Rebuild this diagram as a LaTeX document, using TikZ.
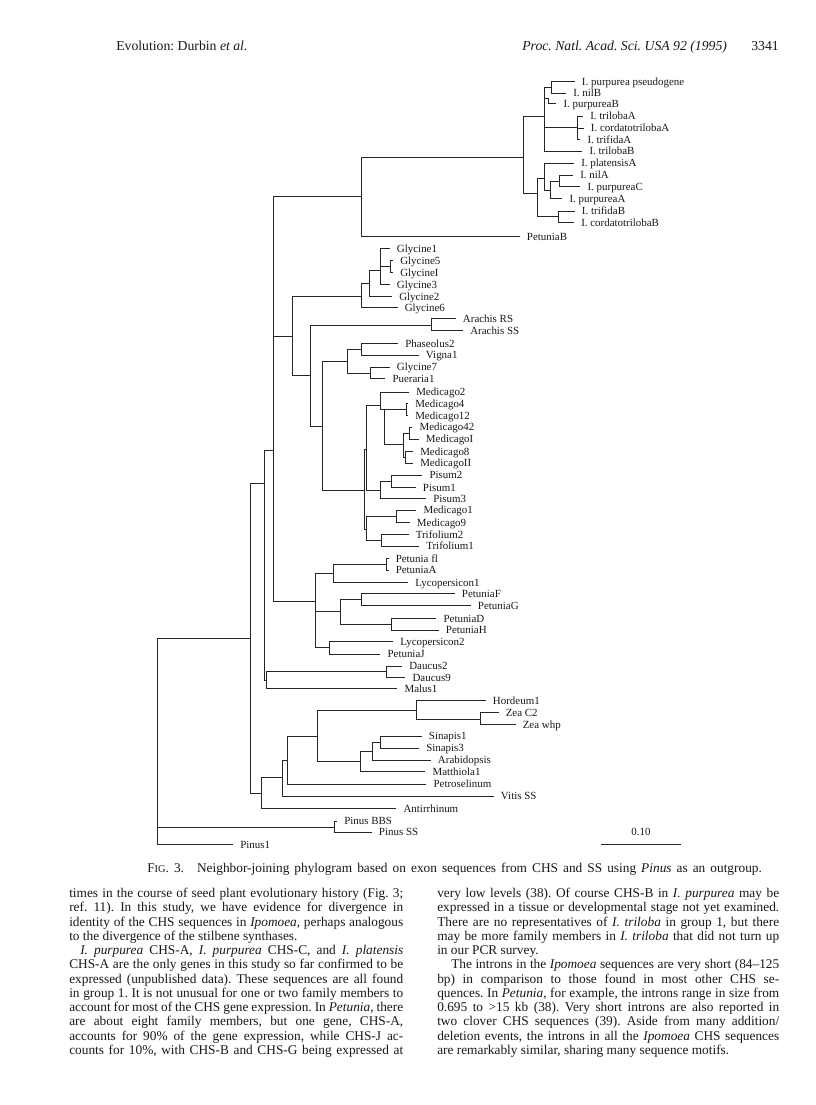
\documentclass[tikz,border=0pt]{standalone}
\usepackage{fontspec}
\setmainfont{Liberation Serif}
\newcommand\mkclade[2]{\foreach \ch in {#2}{\draw[br] (#1) |- (\ch);}}
\newcommand\mkleaf[4]{\coordinate (#1) at (#2,#3); \node[lab] (L#1) at (#1) {#4};}
\begin{document}
\frenchspacing
\begin{tikzpicture}[x=0.75pt,y=-0.75pt,
  br/.style={draw=black!85, line width=0.65pt},
  lab/.style={anchor=base west, inner sep=0pt, xshift=5.25pt, yshift=-2.8pt, font=\fontsize{8.2}{9}\selectfont, text=black!90},
  body/.style={anchor=base west, inner sep=0pt, font=\fontsize{10}{12}\selectfont, text=black!90},
  head/.style={inner sep=0pt, font=\fontsize{10.3}{12}\selectfont, text=black!90}]
\fill[white] (0,0) rectangle (816,1105);
\useasboundingbox (0,0) rectangle (816,1105);

% ---------- header ----------
\node[head, anchor=base west] (h1) at (116,50.5) {Evolution: Durbin \textit{et al.}};
\node[head, anchor=base west] (h2) at (522,50.5) {\textit{Proc. Natl. Acad. Sci. USA 92 (1995)}};
\node[head, anchor=base east] (h3) at (779,50.5) {3341};

% ---------- internal nodes ----------
\coordinate (R) at (157,740);
\coordinate (NC) at (250,638.3);
\coordinate (NB) at (264,483.3);
\coordinate (NA) at (273.3,450.7);
\coordinate (Ntop) at (361.7,196.7);
\coordinate (Nipo) at (523.5,157.3);
\coordinate (N3) at (544,116.7);
\coordinate (N1) at (551,87);
\coordinate (N2) at (548.3,98.5);
\coordinate (N4) at (577,127.5);
\coordinate (N5) at (537.7,193.3);
\coordinate (N6) at (544.3,178);
\coordinate (N6b) at (550,190);
\coordinate (N8) at (559.3,181);
\coordinate (N7) at (558.3,216.7);
\coordinate (Nleg) at (292.3,336);
\coordinate (Ngly) at (361.7,296.7);
\coordinate (Ngly2) at (369.3,283.3);
\coordinate (Ngly3) at (380.7,270);
\coordinate (Ng51) at (390,266.3);
\coordinate (Nleg2) at (310.7,375);
\coordinate (Nara) at (431.7,325);
\coordinate (Nleg3) at (322.7,426);
\coordinate (Nph) at (347.3,361.7);
\coordinate (Nph2) at (361.7,349.3);
\coordinate (Ngp) at (370,373.3);
\coordinate (Nmed) at (364,490);
\coordinate (Nmp) at (366.7,449);
\coordinate (NmA) at (380.5,405);
\coordinate (Nm3) at (384.5,409.5);
\coordinate (Nmf) at (406.5,409.5);
\coordinate (Nm4) at (403.5,444);
\coordinate (Nmfz) at (409.5,433);
\coordinate (Nm8) at (405,457.5);
\coordinate (Npis) at (380.7,490);
\coordinate (Np12) at (391.3,481.5);
\coordinate (Nmt) at (366.7,529);
\coordinate (Nm19) at (396,516.5);
\coordinate (Ntrif) at (381.7,540.5);
\coordinate (Npet) at (315,601.7);
\coordinate (Npet1) at (333.3,573.3);
\coordinate (Npfa) at (386.7,564.3);
\coordinate (Npet2) at (340.7,611.7);
\coordinate (Nfg) at (361,599.5);
\coordinate (Ndh) at (391.7,624);
\coordinate (Nlj) at (329,647.3);
\coordinate (Ndm) at (266.7,680);
\coordinate (Ndau) at (386.7,671.7);
\coordinate (ND) at (261.7,793.3);
\coordinate (NE) at (282.7,777.3);
\coordinate (NF) at (287.7,760.7);
\coordinate (NG) at (317.7,736);
\coordinate (NH) at (416,710.7);
\coordinate (Nzea) at (480,719);
\coordinate (NI) at (360,761.7);
\coordinate (NJ) at (372.7,751.7);
\coordinate (Nsin) at (380.7,742);
\coordinate (NPin) at (334.3,827);

% ---------- leaves ----------
\mkleaf{tPseudo}{574.7}{81.5}{I. purpurea pseudogene}
\mkleaf{tNilB}{566}{93}{I. nilB}
\mkleaf{tPurB}{556.3}{103.5}{I. purpureaB}
\mkleaf{tTriA}{583}{116}{I. trilobaA}
\mkleaf{tCorA}{583.7}{128}{I. cordatotrilobaA}
\mkleaf{tTrfA}{580.3}{139.5}{I. trifidaA}
\mkleaf{tTriB}{582.3}{151}{I. trilobaB}
\mkleaf{tPlaA}{574}{163}{I. platensisA}
\mkleaf{tNilA}{573}{175}{I. nilA}
\mkleaf{tPurC}{580.3}{186.5}{I. purpureaC}
\mkleaf{tPurA}{562.3}{198.5}{I. purpureaA}
\mkleaf{tTrfB}{574.7}{211}{I. trifidaB}
\mkleaf{tCorB}{574}{222.5}{I. cordatotrilobaB}
\mkleaf{tPetB}{519.7}{236.5}{PetuniaB}
\mkleaf{tGlyA}{389.7}{248.5}{Glycine1}
\mkleaf{tGlyE}{393}{260.3}{Glycine5}
\mkleaf{tGlyI}{393}{272.3}{GlycineI}
\mkleaf{tGlyC}{389.7}{284.3}{Glycine3}
\mkleaf{tGlyB}{392}{296.5}{Glycine2}
\mkleaf{tGlyF}{397.5}{307.7}{Glycine6}
\mkleaf{tAraRS}{455.7}{318.5}{Arachis RS}
\mkleaf{tAraSS}{463}{330.5}{Arachis SS}
\mkleaf{tPha}{398}{343.3}{Phaseolus2}
\mkleaf{tVig}{418.7}{355}{Vigna1}
\mkleaf{tGlyG}{389.7}{367}{Glycine7}
\mkleaf{tPue}{385.3}{378.7}{Pueraria1}
\mkleaf{tMedB}{409}{392}{Medicago2}
\mkleaf{tMedD}{408}{403.5}{Medicago4}
\mkleaf{tMedL}{408}{415.5}{Medicago12}
\mkleaf{tMedDB}{412.3}{427}{Medicago42}
\mkleaf{tMedI}{418.7}{439}{MedicagoI}
\mkleaf{tMedH}{413}{451.5}{Medicago8}
\mkleaf{tMedII}{413}{463}{MedicagoII}
\mkleaf{tPisB}{422.3}{475}{Pisum2}
\mkleaf{tPisA}{415.7}{487.3}{Pisum1}
\mkleaf{tPisC}{426}{498.5}{Pisum3}
\mkleaf{tMedA}{416.3}{510}{Medicago1}
\mkleaf{tMedJ}{409.7}{522.5}{Medicago9}
\mkleaf{tTrB}{408.5}{534.3}{Trifolium2}
\mkleaf{tTrA}{419}{546}{Trifolium1}
\mkleaf{tPetfl}{388.5}{558.5}{Petunia fl}
\mkleaf{tPetA}{388.5}{570}{PetuniaA}
\mkleaf{tLycA}{408}{582.3}{Lycopersicon1}
\mkleaf{tPetF}{454.7}{593.5}{PetuniaF}
\mkleaf{tPetG}{470.7}{605.7}{PetuniaG}
\mkleaf{tPetD}{436.3}{618.3}{PetuniaD}
\mkleaf{tPetH}{438.7}{630}{PetuniaH}
\mkleaf{tLycB}{393}{641.7}{Lycopersicon2}
\mkleaf{tPetJ}{380.3}{654}{PetuniaJ}
\mkleaf{tDauB}{402}{666}{Daucus2}
\mkleaf{tDauI}{405.3}{677.5}{Daucus9}
\mkleaf{tMal}{397.3}{688.3}{Malus1}
\mkleaf{tHor}{485.7}{700.5}{Hordeum1}
\mkleaf{tZeaC}{498.5}{712.5}{Zea C2}
\mkleaf{tZeaW}{515.5}{724.5}{Zea whp}
\mkleaf{tSinA}{421.7}{736}{Sinapis1}
\mkleaf{tSinC}{419}{748}{Sinapis3}
\mkleaf{tAra}{430.7}{760}{Arabidopsis}
\mkleaf{tMat}{425.3}{771.7}{Matthiola1}
\mkleaf{tPetro}{426.3}{784}{Petroselinum}
\mkleaf{tVit}{493.7}{796}{Vitis SS}
\mkleaf{tAnt}{396.3}{808.3}{Antirrhinum}
\mkleaf{tPinBBS}{337}{821}{Pinus BBS}
\mkleaf{tPinSS}{371.7}{832}{Pinus SS}
\mkleaf{tPinA}{233}{844.3}{Pinus1}

% ---------- branches ----------
\mkclade{R}{NC,NPin,tPinA}
\mkclade{NC}{NB,ND}
\mkclade{NB}{NA,Ndm}
\mkclade{NA}{Ntop,Nleg,Npet}
\mkclade{Ntop}{Nipo,tPetB}
\mkclade{Nipo}{N3,N5}
\mkclade{N3}{N1,N2,N4,tTriB}
\mkclade{N1}{tPseudo,tNilB}
\mkclade{N2}{tPurB}
\mkclade{N4}{tTriA,tCorA,tTrfA}
\mkclade{N5}{N6,N7}
\mkclade{N6}{tPlaA,N6b}
\mkclade{N6b}{N8,tPurA}
\mkclade{N8}{tNilA,tPurC}
\mkclade{N7}{tTrfB,tCorB}
\mkclade{Nleg}{Ngly,Nleg2}
\mkclade{Ngly}{Ngly2,tGlyF}
\mkclade{Ngly2}{Ngly3,tGlyB}
\mkclade{Ngly3}{tGlyA,Ng51,tGlyC}
\mkclade{Ng51}{tGlyE,tGlyI}
\mkclade{Nleg2}{Nara,Nleg3}
\mkclade{Nara}{tAraRS,tAraSS}
\mkclade{Nleg3}{Nph,Nmed}
\mkclade{Nph}{Nph2,Ngp}
\mkclade{Nph2}{tPha,tVig}
\mkclade{Ngp}{tGlyG,tPue}
\mkclade{Nmed}{Nmp,Nmt}
\mkclade{Nmp}{NmA,Npis}
\mkclade{NmA}{tMedB,Nm3}
\mkclade{Nm3}{Nmf,Nm4}
\mkclade{Nmf}{tMedD,tMedL}
\mkclade{Nm4}{Nmfz,Nm8}
\mkclade{Nmfz}{tMedDB,tMedI}
\mkclade{Nm8}{tMedH,tMedII}
\mkclade{Npis}{Np12,tPisC}
\mkclade{Np12}{tPisB,tPisA}
\mkclade{Nmt}{Nm19,Ntrif}
\mkclade{Nm19}{tMedA,tMedJ}
\mkclade{Ntrif}{tTrB,tTrA}
\mkclade{Npet}{Npet1,Npet2,Nlj}
\mkclade{Npet1}{Npfa,tLycA}
\mkclade{Npfa}{tPetfl,tPetA}
\mkclade{Npet2}{Nfg,Ndh}
\mkclade{Nfg}{tPetF,tPetG}
\mkclade{Ndh}{tPetD,tPetH}
\mkclade{Nlj}{tLycB,tPetJ}
\mkclade{Ndm}{Ndau,tMal}
\mkclade{Ndau}{tDauB,tDauI}
\mkclade{ND}{NE,tAnt}
\mkclade{NE}{NF,tVit}
\mkclade{NF}{NG,tPetro}
\mkclade{NG}{NH,NI}
\mkclade{NH}{tHor,Nzea}
\mkclade{Nzea}{tZeaC,tZeaW}
\mkclade{NI}{NJ,tMat}
\mkclade{NJ}{Nsin,tAra}
\mkclade{Nsin}{tSinA,tSinC}
\mkclade{NPin}{tPinBBS,tPinSS}

% ---------- scale bar ----------
\coordinate (sbA) at (601,844);
\coordinate (sbB) at (681,844);
\draw[br] (sbA) -- (sbB);
\node[anchor=base, inner sep=0pt, font=\fontsize{8.2}{9}\selectfont, text=black!90] (sbL) at (641,835.5) {0.10};

% ---------- caption ----------
\node[anchor=base west, inner sep=0pt, font=\fontsize{10}{11}\selectfont, text=black!90] (cap) at (147,872)
  {\makebox[461pt][s]{F{\fontsize{7.8}{9}\selectfont IG}. 3.\hspace{0.6em} Neighbor-joining phylogram based on exon sequences from CHS and SS using \textit{Pinus} as an outgroup.}};

% ---------- left column ----------
\node[body] (a1) at (69,897.5) {\makebox[250.5pt][s]{times in the course of seed plant evolutionary history (Fig. 3;}};
\node[body] (a2) at (69,911.75) {\makebox[250.5pt][s]{ref. 11). In this study, we have evidence for divergence in}};
\node[body] (a3) at (69,926) {\makebox[250.5pt][s]{identity of the CHS sequences in \textit{Ipomoea}, perhaps analogous}};
\node[body] (a4) at (69,940.25) {to the divergence of the stilbene synthases.};
\node[body] (a5) at (80,954.5) {\makebox[242.25pt][s]{\textit{I. purpurea} CHS-A, \textit{I. purpurea} CHS-C, and \textit{I. platensis}}};
\node[body] (a6) at (69,968.75) {\makebox[250.5pt][s]{CHS-A are the only genes in this study so far confirmed to be}};
\node[body] (a7) at (69,983) {\makebox[250.5pt][s]{expressed (unpublished data). These sequences are all found}};
\node[body] (a8) at (69,997.25) {\makebox[250.5pt][s]{in group 1. It is not unusual for one or two family members to}};
\node[body] (a9) at (69,1011.5) {\makebox[250.5pt][s]{account for most of the CHS gene expression. In \textit{Petunia}, there}};
\node[body] (a10) at (69,1025.75) {\makebox[250.5pt][s]{are about eight family members, but one gene, CHS-A,}};
\node[body] (a11) at (69,1040) {\makebox[250.5pt][s]{accounts for 90\% of the gene expression, while CHS-J ac-}};
\node[body] (a12) at (69,1054.25) {\makebox[250.5pt][s]{counts for 10\%, with CHS-B and CHS-G being expressed at}};

% ---------- right column ----------
\node[body] (b1) at (437,897.5) {\makebox[256.5pt][s]{very low levels (38). Of course CHS-B in \textit{I. purpurea} may be}};
\node[body] (b2) at (437,911.75) {\makebox[256.5pt][s]{expressed in a tissue or developmental stage not yet examined.}};
\node[body] (b3) at (437,926) {\makebox[256.5pt][s]{There are no representatives of \textit{I. triloba} in group 1, but there}};
\node[body] (b4) at (437,940.25) {\makebox[256.5pt][s]{may be more family members in \textit{I. triloba} that did not turn up}};
\node[body] (b5) at (437,954.5) {in our PCR survey.};
\node[body] (b6) at (451,968.75) {\makebox[246pt][s]{The introns in the \textit{Ipomoea} sequences are very short (84--125}};
\node[body] (b7) at (437,983) {\makebox[256.5pt][s]{bp) in comparison to those found in most other CHS se-}};
\node[body] (b8) at (437,997.25) {\makebox[256.5pt][s]{quences. In \textit{Petunia}, for example, the introns range in size from}};
\node[body] (b9) at (437,1011.5) {\makebox[256.5pt][s]{0.695 to >15 kb (38). Very short introns are also reported in}};
\node[body] (b10) at (437,1025.75) {\makebox[256.5pt][s]{two clover CHS sequences (39). Aside from many addition/}};
\node[body] (b11) at (437,1040) {\makebox[256.5pt][s]{deletion events, the introns in all the \textit{Ipomoea} CHS sequences}};
\node[body] (b12) at (437,1054.25) {are remarkably similar, sharing many sequence motifs.};
\end{tikzpicture}
\end{document}
